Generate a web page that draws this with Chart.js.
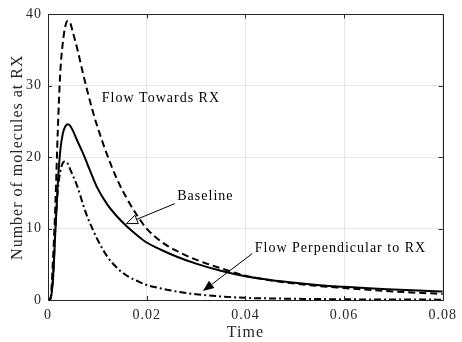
<!DOCTYPE html>
<html>
<head>
<meta charset="utf-8">
<script src="https://cdn.jsdelivr.net/npm/chart.js@4.4.1/dist/chart.umd.min.js"></script>
<style>
  html, body { margin: 0; padding: 0; background: #fff; }
  #wrap { width: 462px; height: 342px; }
</style>
</head>
<body>
<div id="wrap"><canvas id="rxChart"></canvas></div>
<script>
// time samples (s)
const timeVals = [0, 0.0005, 0.001, 0.0015, 0.002, 0.0025, 0.003, 0.0035, 0.004, 0.0045,
  0.005, 0.006, 0.007, 0.008, 0.009, 0.010, 0.012, 0.014, 0.016, 0.018, 0.020, 0.023,
  0.026, 0.030, 0.035, 0.040, 0.045, 0.050, 0.055, 0.060, 0.065, 0.070, 0.075, 0.080];

// Flow Towards RX (dashed)
const towardsVals = [0, 0.2, 5.5, 13.5, 24.0, 32.0, 36.0, 38.3, 39.1, 38.8,
  37.6, 35.0, 32.0, 29.2, 26.6, 24.3, 20.3, 16.9, 14.2, 11.9, 10.0, 8.15,
  6.9, 5.65, 4.45, 3.4, 2.75, 2.3, 1.95, 1.68, 1.42, 1.2, 1.01, 0.85];

// Baseline (solid)
const baselineVals = [0, 0.2, 2.8, 9.7, 16.5, 21.0, 23.3, 24.3, 24.6, 24.4,
  23.8, 22.2, 20.7, 19.0, 17.3, 15.7, 13.4, 11.7, 10.3, 9.1, 8.05, 7.0,
  6.1, 5.1, 4.1, 3.32, 2.8, 2.4, 2.08, 1.84, 1.63, 1.47, 1.32, 1.18];

// Flow Perpendicular to RX (dash-dot)
const perpVals = [0, 0.2, 3.0, 10.0, 15.5, 18.0, 19.2, 19.4, 19.1, 18.3,
  17.5, 15.8, 13.6, 11.6, 10.0, 8.5, 6.1, 4.5, 3.4, 2.7, 2.1, 1.6,
  1.2, 0.8, 0.5, 0.3, 0.22, 0.17, 0.13, 0.1, 0.08, 0.07, 0.06, 0.05];

const xTicks = [0, 0.02, 0.04, 0.06, 0.08];
const yTicks = [0, 10, 20, 30, 40];

// text labels with arrows (data coordinates)
const notes = [
  { text: 'Flow Towards RX', x: 0.0109, y: 28.2 },
  { text: 'Baseline', x: 0.0262, y: 14.45, from: [0.0257, 13.5], to: [0.0159, 10.7], hollow: true },
  { text: 'Flow Perpendicular to RX', x: 0.0419, y: 7.2, from: [0.0414, 6.5], to: [0.0314, 1.25] }
];

const FONT = 'Liberation Serif, Times New Roman, serif';

function pts(vals) {
  return timeVals.map((t, i) => ({ x: t, y: vals[i] }));
}

function line(label, vals, dash) {
  return {
    label: label,
    data: pts(vals),
    borderColor: '#000',
    borderWidth: 2,
    borderDash: dash,
    pointRadius: 0,
    fill: false,
    cubicInterpolationMode: 'monotone'
  };
}

// box, inward ticks, annotations
const extras = {
  id: 'extras',
  beforeDraw(chart) {
    // wider text, closer to the reference font
    chart.ctx.letterSpacing = '1px';
  },
  afterDatasetsDraw(chart) {
    const ctx = chart.ctx;
    const a = chart.chartArea;
    const xs = chart.scales.x, ys = chart.scales.y;
    ctx.save();
    ctx.strokeStyle = '#262626';
    ctx.lineWidth = 1;
    ctx.beginPath();
    xTicks.forEach(v => {
      const px = Math.round(xs.getPixelForValue(v)) + 0.5;
      ctx.moveTo(px, a.bottom); ctx.lineTo(px, a.bottom - 4);
      ctx.moveTo(px, a.top); ctx.lineTo(px, a.top + 4);
    });
    yTicks.forEach(v => {
      const py = Math.round(ys.getPixelForValue(v)) + 0.5;
      ctx.moveTo(a.left, py); ctx.lineTo(a.left + 4, py);
      ctx.moveTo(a.right, py); ctx.lineTo(a.right - 4, py);
    });
    ctx.stroke();
    ctx.strokeRect(Math.round(a.left) + 0.5, Math.round(a.top) + 0.5,
      Math.round(a.right - a.left), Math.round(a.bottom - a.top));

    ctx.fillStyle = '#000';
    ctx.font = '14px ' + FONT;
    ctx.letterSpacing = '1px';
    ctx.textBaseline = 'middle';
    ctx.textAlign = 'left';
    notes.forEach(n => {
      ctx.fillText(n.text, xs.getPixelForValue(n.x), ys.getPixelForValue(n.y));
      if (!n.from) return;
      const x1 = xs.getPixelForValue(n.from[0]), y1 = ys.getPixelForValue(n.from[1]);
      const x2 = xs.getPixelForValue(n.to[0]), y2 = ys.getPixelForValue(n.to[1]);
      const ang = Math.atan2(y2 - y1, x2 - x1);
      const hl = 11, hw = 4.5;
      const bx = x2 - hl * Math.cos(ang), by = y2 - hl * Math.sin(ang);
      ctx.strokeStyle = '#000';
      ctx.lineWidth = 1;
      ctx.beginPath();
      ctx.moveTo(x1, y1);
      ctx.lineTo(bx, by);
      ctx.stroke();
      ctx.beginPath();
      ctx.moveTo(x2, y2);
      ctx.lineTo(bx + hw * Math.sin(ang), by - hw * Math.cos(ang));
      ctx.lineTo(bx - hw * Math.sin(ang), by + hw * Math.cos(ang));
      ctx.closePath();
      if (n.hollow) {
        ctx.fillStyle = '#fff';
        ctx.fill();
        ctx.stroke();
        ctx.fillStyle = '#000';
      } else {
        ctx.fill();
      }
    });
    ctx.restore();
  }
};

const config = {
  type: 'line',
  data: {
    datasets: [
      line('Flow Towards RX', towardsVals, [7, 4]),
      line('Baseline', baselineVals, []),
      line('Flow Perpendicular to RX', perpVals, [7, 3, 2, 3])
    ]
  },
  options: {
    responsive: true,
    maintainAspectRatio: false,
    animation: false,
    layout: { padding: { top: 14, right: 15, left: 0, bottom: 0 } },
    plugins: {
      legend: { display: false },
      tooltip: { enabled: false }
    },
    scales: {
      x: {
        type: 'linear',
        min: 0,
        max: 0.08,
        afterFit(s) { s.height = 42; },
        afterBuildTicks(s) { s.ticks = xTicks.map(v => ({ value: v })); },
        grid: { color: '#e6e6e6', drawTicks: false },
        border: { display: false },
        ticks: {
          padding: 7,
          color: '#262626',
          font: { family: FONT, size: 14 },
          callback: v => v === 0 ? '0' : v.toFixed(2)
        },
        title: {
          display: true,
          text: 'Time',
          color: '#262626',
          font: { family: FONT, size: 16 },
          padding: { top: 1, bottom: 0 }
        }
      },
      y: {
        min: 0,
        max: 40,
        afterFit(s) { s.width = 48; },
        afterBuildTicks(s) { s.ticks = yTicks.map(v => ({ value: v })); },
        grid: { color: '#e6e6e6', drawTicks: false },
        border: { display: false },
        ticks: {
          padding: 6,
          color: '#262626',
          font: { family: FONT, size: 14 }
        },
        title: {
          display: true,
          text: 'Number of molecules at RX',
          color: '#262626',
          font: { family: FONT, size: 16 },
          padding: { top: 8, bottom: 0 }
        }
      }
    }
  },
  plugins: [extras]
};

const rxChart = new Chart(document.getElementById('rxChart'), config);
</script>
</body>
</html>
